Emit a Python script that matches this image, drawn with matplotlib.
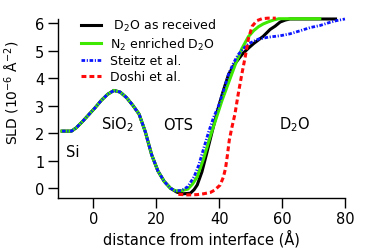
import matplotlib
matplotlib.use("Agg")
import matplotlib.pyplot as plt

# SLD profiles (x in Angstrom, SLD in 1e-6 A^-2)
x_received = [-10, -7, -5.5, -3.5, -1.5, 0.5, 2.5, 4.5, 6.5, 8.5, 10.5, 12.5, 14.5,
              16.5, 18.5, 20.5, 22.5, 24.5, 26.5, 28.5, 30.8, 32, 33, 34.5, 36.1,
              37.7, 39.3, 40.9, 42, 43, 45.1, 47.5, 49.5, 51, 54, 56.2, 57.8, 59.4,
              61, 62.5, 77]
sld_received = [2.08, 2.08, 2.2, 2.43, 2.68, 2.93, 3.2, 3.42, 3.56, 3.5, 3.3, 3.02, 2.7,
                2.05, 1.22, 0.63, 0.25, 0.0, -0.14, -0.2, -0.18, -0.05, 0.12, 0.6, 1.31,
                2.04, 2.76, 3.4, 3.8, 4.15, 4.55, 4.9, 5.12, 5.27, 5.53, 5.78, 5.9, 6.05,
                6.12, 6.16, 6.16]

x_n2 = [-10, -7, -5.5, -3.5, -1.5, 0.5, 2.5, 4.5, 6.5, 8.5, 10.5, 12.5, 14.5,
        16.5, 18.5, 20.5, 22.5, 24.5, 26, 28, 30, 31.5, 33, 35, 37.2, 39.3, 40.9,
        43, 45.1, 47.2, 49.3, 51, 52.5, 54, 55.7, 57.5, 59, 72]
sld_n2 = [2.08, 2.08, 2.2, 2.43, 2.68, 2.93, 3.2, 3.42, 3.56, 3.5, 3.3, 3.02, 2.7,
          2.05, 1.22, 0.63, 0.25, 0.0, -0.09, -0.09, -0.03, 0.15, 0.42, 1.07, 1.91,
          2.64, 3.2, 3.85, 4.5, 5.08, 5.52, 5.74, 5.88, 5.98, 6.06, 6.13, 6.17, 6.17]

x_steitz = [-10, -7, -5.5, -3.5, -1.5, 0.5, 2.5, 4.5, 6.5, 8.5, 10.5, 12.5, 14.5,
            16.5, 18.5, 20.5, 22.5, 24.5, 26, 28, 30, 32, 33.5, 35, 36.6, 38.2, 39.8,
            41.5, 43, 44.5, 46, 48, 49.5, 52.5, 55.7, 59.4, 62.5, 65.7, 69, 72, 75,
            77.3, 80]
sld_steitz = [2.08, 2.08, 2.2, 2.43, 2.68, 2.93, 3.2, 3.42, 3.56, 3.5, 3.3, 3.02, 2.7,
              2.05, 1.22, 0.63, 0.25, 0.0, -0.09, -0.08, 0.06, 0.42, 0.85, 1.43, 2.04,
              2.58, 3.0, 3.6, 4.16, 4.55, 4.86, 5.12, 5.27, 5.43, 5.5, 5.55, 5.62, 5.73,
              5.85, 5.92, 6.03, 6.1, 6.16]

x_doshi = [27, 30, 33, 35, 37.2, 38.5, 40.3, 41.3, 42, 42.6, 43.2, 44, 45, 46, 47.2,
           48.3, 49.3, 50.5, 52, 53.6, 55.5, 58]
sld_doshi = [-0.22, -0.24, -0.23, -0.2, -0.15, -0.07, 0.12, 0.4, 0.72, 1.2, 1.75, 2.2,
             2.7, 3.4, 4.16, 4.8, 5.45, 5.9, 6.1, 6.17, 6.19, 6.19]

labels = [r' D$_2$O as received', r'N$_2$ enriched D$_2$O', 'Steitz et al.', 'Doshi et al.']
regions = ['Si', r'SiO$_2$', 'OTS', r'D$_2$O']
region_x = [-6.6, 7.7, 26.8, 64.1]
region_y = [1.33, 2.34, 2.31, 2.37]

plt.rcParams['font.family'] = 'DejaVu Sans'
plt.rcParams['mathtext.default'] = 'regular'

fig = plt.figure(figsize=(3.82, 2.53), dpi=100)
ax = fig.add_axes([0.1526, 0.2154, 0.7504, 0.7056])

ax.plot(x_received, sld_received, color='black', lw=2.2, label=labels[0], clip_on=False)
ax.plot(x_n2, sld_n2, color='#3ee800', lw=2.2, label=labels[1], clip_on=False)
ax.plot(x_steitz, sld_steitz, color='#0a14ff', lw=2.0, ls=(0, (1.3, 0.6, 0.4, 0.6)),
        label=labels[2], clip_on=False)
ax.plot(x_doshi, sld_doshi, color='#ff0a0a', lw=2.2, ls=(0, (1.6, 1.0)),
        label=labels[3], clip_on=False)

for txt, tx, ty in zip(regions, region_x, region_y):
    ax.text(tx, ty, txt, ha='center', va='center', fontsize=10.5)

ax.set_xlim(-11.2, 80)
ax.set_ylim(-0.335, 6.16)
ax.set_xticks([0, 20, 40, 60, 80])
ax.set_yticks([0, 1, 2, 3, 4, 5, 6])
ax.tick_params(direction='out', length=7, width=1, labelsize=10.5, pad=3)
for side in ['top', 'right']:
    ax.spines[side].set_visible(False)
for side in ['left', 'bottom']:
    ax.spines[side].set_linewidth(1)

ax.set_xlabel('distance from interface (Å)', fontsize=10.5, labelpad=2)
ax.set_ylabel(r'SLD (10$^{-6}$ Å$^{-2}$)', fontsize=10)
ax.yaxis.set_label_coords(-0.125, 0.594)

ax.legend(loc='upper left', bbox_to_anchor=(0.079, 1.01), frameon=False, fontsize=9,
          handlelength=1.6, handletextpad=0.7, labelspacing=0.2, borderaxespad=0,
          borderpad=0)

fig.savefig('out.png', dpi=100)
